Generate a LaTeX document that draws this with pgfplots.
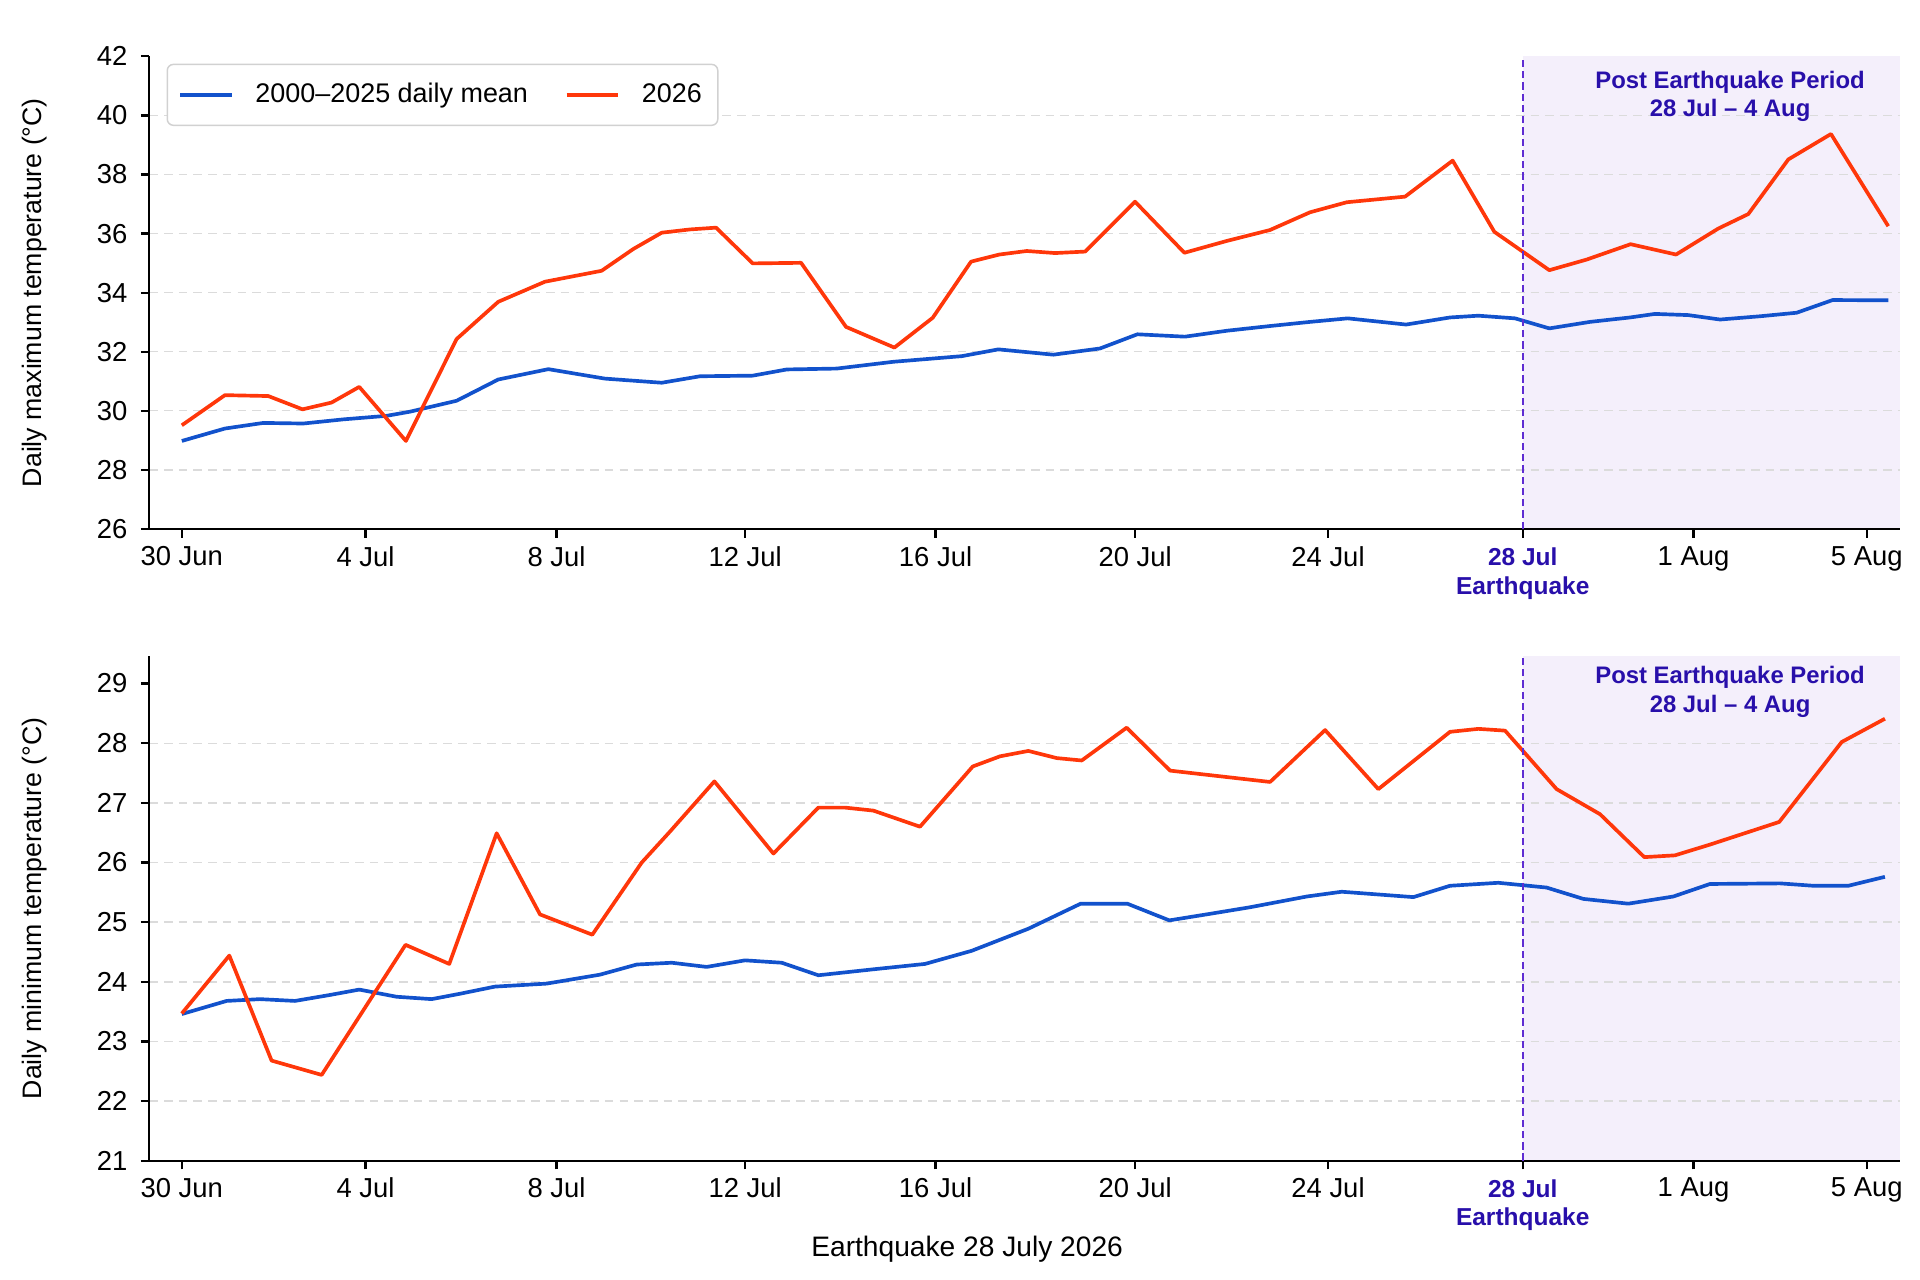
\documentclass[border=0pt]{standalone}
\usepackage{fontspec}
\setmainfont{Liberation Sans}
\usepackage{pgfplots}
\pgfplotsset{compat=1.18}
\definecolor{meanblue}{RGB}{18,82,204}
\definecolor{yrred}{RGB}{255,55,10}
\definecolor{postshade}{RGB}{244,239,251}
\definecolor{eqline}{RGB}{95,45,210}
\definecolor{eqtext}{RGB}{40,15,170}
\pgfplotsset{
  myaxis/.style={
    scale only axis, width=715pt,
    set layers,
    axis lines=left,
    axis line style={-, line width=0.9pt, black},
    tick align=outside, major tick length=3.5pt,
    tick style={line width=0.9pt, black},
    xmin=-0.693, xmax=36.72,
    xtick={0,3.925,8.006,12.036,16.104,20.369,24.49,28.65,32.30,36.002},
    xticklabels={30 Jun,4 Jul,8 Jul,12 Jul,16 Jul,20 Jul,24 Jul,{\fontsize{10}{11.5}\selectfont\bfseries\color{eqtext}\begin{tabular}{@{}c@{}}28 Jul\\Earthquake\end{tabular}},1 Aug,5 Aug},
    tick label style={font=\fontsize{11.2}{13}\selectfont},
    yticklabel style={xshift=-2pt},
    /pgf/number format/assume math mode=true,
    every axis y label/.style={at={(axis description cs:-0.0657,0.5)}, rotate=90, anchor=center, font=\fontsize{10.9}{13}\selectfont},
    extra y tick labels={},
    extra y tick style={grid=major, major tick length=0pt},
    major grid style={draw=black!14, line width=0.55pt, dash pattern=on 3.5pt off 2.5pt},
    every axis plot/.append style={line width=1.5pt, line join=round, no markers},
  }
}
\begin{document}
\begin{tikzpicture}

% ---------------- top panel ----------------
\begin{axis}[myaxis,
  at={(61pt,306.5pt)}, anchor=south west, height=193pt,
  ymin=26, ymax=42, ytick={26,28,...,42},
  extra y ticks={28,30,...,40},
  ylabel={Daily maximum temperature (°C)},
  legend columns=2,
  legend cell align=left,
  legend style={at={(axis description cs:0.0098,0.9845)}, anchor=north west,
    draw=black!18, line width=0.6pt, rounded corners=2.5pt,
    inner xsep=4.5pt, inner ysep=5.7pt,
    font=\fontsize{11}{13}\selectfont,
    /tikz/every even column/.append style={column sep=13pt}},
  legend image code/.code={\path (0pt,0pt) (28pt,0pt);\draw[#1,line width=1.5pt] (0pt,0pt) -- (21pt,0pt);},
]
\begin{pgfonlayer}{axis background}
\fill[postshade] (axis cs:28.65,26) rectangle (axis cs:36.72,42);
\end{pgfonlayer}
\addplot[meanblue] coordinates {
(0.000,28.98) (0.921,29.40) (1.740,29.59) (2.596,29.57) (3.448,29.71)
(4.375,29.83) (4.874,29.97) (5.871,30.34) (6.761,31.06) (7.831,31.41)
(9.040,31.09) (10.254,30.95) (11.073,31.17) (12.198,31.19) (12.925,31.40)
(13.993,31.43) (15.204,31.66) (16.664,31.85) (17.446,32.08) (18.621,31.90)
(19.618,32.11) (20.416,32.59) (21.434,32.51) (22.326,32.71) (23.250,32.87)
(24.105,33.01) (24.911,33.13) (26.157,32.92) (27.096,33.16) (27.703,33.22)
(28.485,33.13) (29.218,32.79) (30.086,33.01) (30.942,33.16) (31.476,33.28)
(32.188,33.24) (32.865,33.09) (33.718,33.20) (34.503,33.32) (35.272,33.75)
(36.460,33.74)
};
\addlegendentry{2000–2025 daily mean}
\addplot[yrred] coordinates {
(0.000,29.51) (0.921,30.53) (1.847,30.50) (2.580,30.05) (3.200,30.28)
(3.791,30.81) (4.788,28.98) (5.871,32.43) (6.761,33.69) (7.758,34.37)
(8.969,34.74) (9.649,35.48) (10.254,36.03) (10.858,36.14) (11.415,36.20)
(12.198,34.99) (13.231,35.01) (14.192,32.84) (15.225,32.14) (16.044,33.15)
(16.863,35.05) (17.467,35.29) (18.053,35.41) (18.658,35.34) (19.299,35.39)
(20.366,37.08) (21.421,35.35) (22.326,35.75) (23.250,36.12) (24.105,36.72)
(24.890,37.06) (26.136,37.25) (27.153,38.47) (28.043,36.06) (29.218,34.76)
(30.016,35.12) (30.955,35.64) (31.926,35.29) (32.828,36.17) (33.469,36.66)
(34.325,38.51) (35.236,39.37) (36.460,36.25)
};
\addlegendentry{2026}
\draw[eqline, line width=0.7pt, dash pattern=on 3pt off 1.6pt] (axis cs:28.65,26) -- (axis cs:28.65,42);
\node[align=center, text=eqtext, font=\fontsize{9.75}{11.5}\selectfont\bfseries] at (axis cs:33.08,40.65) {Post Earthquake Period\\28 Jul – 4 Aug};
\end{axis}

% ---------------- bottom panel ----------------
\begin{axis}[myaxis,
  at={(61pt,48.5pt)}, anchor=south west, height=206.1pt,
  ymin=21, ymax=29.46, ytick={21,22,...,29},
  extra y ticks={22,23,...,28},
  ylabel={Daily minimum temperature (°C)},
  xlabel={Earthquake 28 July 2026},
  xlabel style={at={(axis description cs:0.467,-0.175)}, anchor=center, font=\fontsize{11.5}{13}\selectfont},
]
\begin{pgfonlayer}{axis background}
\fill[postshade] (axis cs:28.65,21) rectangle (axis cs:36.72,29.46);
\end{pgfonlayer}
\addplot[meanblue] coordinates {
(0.000,23.46) (0.958,23.68) (1.669,23.71) (2.418,23.68) (3.166,23.78)
(3.791,23.87) (4.589,23.75) (5.338,23.71) (5.942,23.80) (6.690,23.92)
(7.794,23.97) (8.933,24.12) (9.720,24.29) (10.468,24.32) (11.214,24.25)
(12.033,24.36) (12.818,24.32) (13.600,24.11) (14.775,24.21) (15.879,24.30)
(16.876,24.52) (18.087,24.89) (19.205,25.31) (20.201,25.31) (21.099,25.03)
(21.970,25.14) (22.823,25.25) (24.035,25.43) (24.783,25.51) (26.314,25.42)
(27.096,25.61) (28.129,25.66) (28.647,25.62) (29.160,25.58) (29.945,25.39)
(30.905,25.31) (31.868,25.43) (32.650,25.64) (34.147,25.65) (34.859,25.61)
(35.607,25.61) (36.389,25.76)
};
\addplot[yrred] coordinates {
(0.000,23.47) (1.015,24.44) (1.918,22.68) (2.988,22.44) (4.780,24.62)
(5.714,24.30) (6.727,26.49) (7.653,25.13) (8.770,24.79) (9.827,26.00)
(10.432,26.52) (11.379,27.36) (12.640,26.15) (13.600,26.92) (14.171,26.92)
(14.775,26.87) (15.772,26.60) (16.900,27.61) (17.483,27.78) (18.087,27.87)
(18.694,27.75) (19.228,27.71) (20.188,28.26) (21.115,27.54) (23.252,27.35)
(24.427,28.22) (25.565,27.23) (27.096,28.19) (27.703,28.24) (28.273,28.21)
(29.374,27.23) (30.301,26.81) (31.248,26.09) (31.902,26.12) (32.650,26.30)
(34.131,26.68) (35.466,28.02) (36.389,28.41)
};
\draw[eqline, line width=0.7pt, dash pattern=on 3pt off 1.6pt] (axis cs:28.65,21) -- (axis cs:28.65,29.46);
\node[align=center, text=eqtext, font=\fontsize{9.75}{11.5}\selectfont\bfseries] at (axis cs:33.08,28.86) {Post Earthquake Period\\28 Jul – 4 Aug};
\end{axis}
\path (0pt,0pt) rectangle (784pt,522.5pt);
\end{tikzpicture}
\end{document}
